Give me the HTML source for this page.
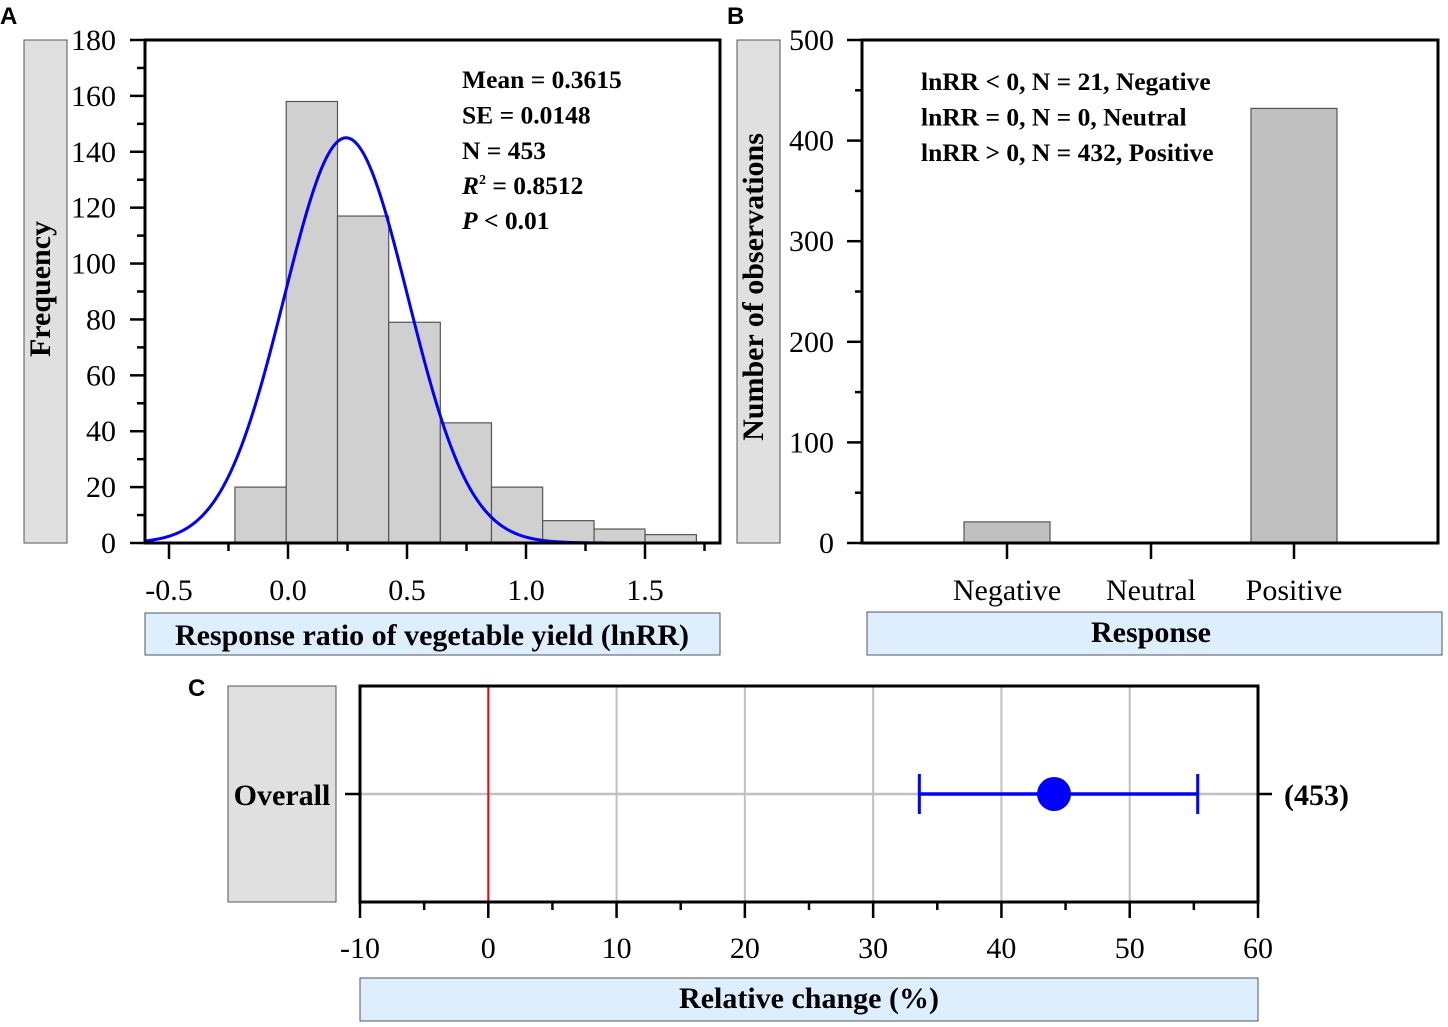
<!DOCTYPE html>
<html><head><meta charset="utf-8"><style>
body{margin:0;background:#fff}
svg{display:block}
text{font-family:"Liberation Serif",serif;fill:#000}
.b{font-weight:bold}
</style></head><body>
<svg id="s" width="1448" height="1027" viewBox="0 0 1448 1027">
<text x="0" y="24" font-weight="bold" font-size="24" style="font-family:'Liberation Sans',sans-serif">A</text>
<text x="727" y="24" font-weight="bold" font-size="24" style="font-family:'Liberation Sans',sans-serif">B</text>
<text x="188" y="696" font-weight="bold" font-size="24" style="font-family:'Liberation Sans',sans-serif">C</text>
<g id="A"></g>
<g id="B"></g>
<g id="C"></g>
</svg>
<script>
// Panel A data
const binEdges=[-0.223,-0.0075,0.208,0.423,0.64,0.855,1.07,1.286,1.5,1.716];
const binCounts=[20,158,117,79,43,20,8,5,3];
const fitPeak=145, fitMean=0.244, fitSigma=0.26;
const aXTicks=[-0.5,0.0,0.5,1.0,1.5];
const aXTickLabels=["-0.5","0.0","0.5","1.0","1.5"];
const aYTicks=[0,20,40,60,80,100,120,140,160,180];
const aStats=["Mean = 0.3615","SE = 0.0148","N = 453"];
// Panel B data
const bCategories=["Negative","Neutral","Positive"];
const bValues=[21,0,432];
const bYTicks=[0,100,200,300,400,500];
const bNotes=["lnRR < 0, N = 21, Negative","lnRR = 0, N = 0, Neutral","lnRR > 0, N = 432, Positive"];
// Panel C data
const cMean=[44.1];
const cLow=[33.6];
const cHigh=[55.3];
const cCounts=["(453)"];
const cXTicks=[-10,0,10,20,30,40,50,60];

const FS=30, SFS=25.5;
const NS="http://www.w3.org/2000/svg";
function mk(p,tag,at,txt){const e=document.createElementNS(NS,tag);for(const k in at)e.setAttribute(k,at[k]);if(txt!==undefined)e.textContent=txt;p.appendChild(e);return e;}

// ---- Panel A
(function(){
const g=document.getElementById('A');
const x=v=>288+v*238, y=v=>543-v*(503/180);
let e=mk(g,'rect',{x:24,y:40,width:43,height:503,fill:'#e0e0e0',stroke:'#555','stroke-width':1});

e=mk(g,'text',{x:0,y:0,transform:'translate(50,289) rotate(-90)','text-anchor':'middle','font-size':FS,class:'b'},'Frequency');

for(let i=0;i<binCounts.length;i++){
 e=mk(g,'rect',{x:x(binEdges[i]),y:y(binCounts[i]),width:x(binEdges[i+1])-x(binEdges[i]),height:y(0)-y(binCounts[i]),fill:'#d0d0d0',stroke:'#555','stroke-width':1.2});
 
}
let d='';
for(let px=145;px<=720;px+=1){const v=(px-288)/238;const f=fitPeak*Math.exp(-Math.pow(v-fitMean,2)/(2*fitSigma*fitSigma));d+=(px==145?'M':'L')+px+','+y(f).toFixed(2);}
e=mk(g,'path',{d:d,fill:'none',stroke:'#0000ff','stroke-width':3});

e=mk(g,'rect',{x:145,y:40,width:575,height:503,fill:'none',stroke:'#000','stroke-width':3});

aYTicks.forEach((t,i)=>{mk(g,'line',{x1:130,x2:145,y1:y(t),y2:y(t),stroke:'#000','stroke-width':2.5});
 if(i<aYTicks.length-1)mk(g,'line',{x1:137,x2:145,y1:y(t+10),y2:y(t+10),stroke:'#000','stroke-width':2.5});
 e=mk(g,'text',{x:116,y:y(t)+10,'text-anchor':'end','font-size':FS},String(t));
 });
aXTicks.forEach((t,i)=>{mk(g,'line',{x1:x(t),x2:x(t),y1:543,y2:559,stroke:'#000','stroke-width':2.5});
 mk(g,'line',{x1:x(t+0.25),x2:x(t+0.25),y1:543,y2:551,stroke:'#000','stroke-width':2.5});
 e=mk(g,'text',{x:x(t),y:600,'text-anchor':'middle','font-size':FS},aXTickLabels[i]);
 });
e=mk(g,'rect',{x:145,y:613,width:575,height:42,fill:'#ddeeff',stroke:'#555','stroke-width':1});

e=mk(g,'text',{x:432,y:645,'text-anchor':'middle','font-size':FS,class:'b'},'Response ratio of vegetable yield  (lnRR)');

aStats.forEach((s,i)=>{e=mk(g,'text',{x:462,y:88+i*35.5,'font-size':SFS,class:'b'},s);
 });
e=mk(g,'text',{x:462,y:194,'font-size':SFS,class:'b'});

e.innerHTML='<tspan font-style="italic">R</tspan><tspan font-size="14" dy="-10">2</tspan><tspan dy="10"> = 0.8512</tspan>';
e=mk(g,'text',{x:462,y:229,'font-size':SFS,class:'b'});

e.innerHTML='<tspan font-style="italic">P</tspan> &lt; 0.01';
})();

// ---- Panel B
(function(){
const g=document.getElementById('B');
const y=v=>543-v*(503/500);
const cx=[1007,1151,1294];
let e=mk(g,'rect',{x:737,y:40,width:43,height:503,fill:'#e0e0e0',stroke:'#555','stroke-width':1});

e=mk(g,'text',{x:0,y:0,transform:'translate(763,287) rotate(-90)','text-anchor':'middle','font-size':FS,class:'b'},'Number of observations');

bValues.forEach((v,i)=>{if(v<=0)return;e=mk(g,'rect',{x:cx[i]-43,y:y(v),width:86,height:y(0)-y(v),fill:'#c0c0c0',stroke:'#555','stroke-width':1.2});
 });
e=mk(g,'rect',{x:862,y:40,width:576,height:503,fill:'none',stroke:'#000','stroke-width':3});

bYTicks.forEach((t,i)=>{mk(g,'line',{x1:847,x2:862,y1:y(t),y2:y(t),stroke:'#000','stroke-width':2.5});
 if(i<bYTicks.length-1)mk(g,'line',{x1:855,x2:862,y1:y(t+50),y2:y(t+50),stroke:'#000','stroke-width':2.5});
 e=mk(g,'text',{x:834,y:y(t)+10,'text-anchor':'end','font-size':FS},String(t));
 });
bCategories.forEach((c,i)=>{mk(g,'line',{x1:cx[i],x2:cx[i],y1:543,y2:559,stroke:'#000','stroke-width':2.5});
 e=mk(g,'text',{x:cx[i],y:600,'text-anchor':'middle','font-size':FS},c);
 });
e=mk(g,'rect',{x:867,y:612,width:575,height:43,fill:'#ddeeff',stroke:'#555','stroke-width':1});

e=mk(g,'text',{x:1151,y:642,'text-anchor':'middle','font-size':FS,class:'b'},'Response');

bNotes.forEach((s,i)=>{e=mk(g,'text',{x:921,y:90+i*35.5,'font-size':SFS,class:'b'},s);
 });
})();

// ---- Panel C
(function(){
const g=document.getElementById('C');
const x=v=>360+(v+10)*(898/70);
const yr=794;
let e=mk(g,'rect',{x:228,y:686,width:108,height:216,fill:'#e0e0e0',stroke:'#555','stroke-width':1});

e=mk(g,'text',{x:282,y:805,'text-anchor':'middle','font-size':FS,class:'b'},'Overall');

cXTicks.forEach(t=>{if(t>-10&&t<60&&t!==0){e=mk(g,'line',{x1:x(t),x2:x(t),y1:686,y2:902,stroke:'#c0c0c0','stroke-width':2});
 }});
mk(g,'line',{x1:360,x2:1258,y1:yr,y2:yr,stroke:'#c0c0c0','stroke-width':2.5});
e=mk(g,'line',{x1:x(0),x2:x(0),y1:686,y2:902,stroke:'#ff0000','stroke-width':2});

e=mk(g,'rect',{x:360,y:686,width:898,height:216,fill:'none',stroke:'#000','stroke-width':3});

mk(g,'line',{x1:345,x2:360,y1:yr,y2:yr,stroke:'#000','stroke-width':2.5});
mk(g,'line',{x1:1258,x2:1272,y1:yr,y2:yr,stroke:'#000','stroke-width':2.5});
cMean.forEach((m,i)=>{
 e=mk(g,'line',{x1:x(cLow[i]),x2:x(cHigh[i]),y1:yr,y2:yr,stroke:'#0000ff','stroke-width':3.5});
 
 mk(g,'line',{x1:x(cLow[i]),x2:x(cLow[i]),y1:774,y2:814,stroke:'#0000ff','stroke-width':3});
 mk(g,'line',{x1:x(cHigh[i]),x2:x(cHigh[i]),y1:774,y2:814,stroke:'#0000ff','stroke-width':3});
 e=mk(g,'circle',{cx:x(m),cy:yr,r:17,fill:'#0000ff'});
 
 e=mk(g,'text',{x:1284,y:805,'font-size':FS,class:'b'},cCounts[i]);
 
});
cXTicks.forEach((t,i)=>{mk(g,'line',{x1:x(t),x2:x(t),y1:902,y2:918,stroke:'#000','stroke-width':2.5});
 if(i<cXTicks.length-1)mk(g,'line',{x1:x(t+5),x2:x(t+5),y1:902,y2:910,stroke:'#000','stroke-width':2.5});
 e=mk(g,'text',{x:x(t),y:958,'text-anchor':'middle','font-size':FS},String(t));
 });
e=mk(g,'rect',{x:360,y:978,width:898,height:43,fill:'#ddeeff',stroke:'#555','stroke-width':1});

e=mk(g,'text',{x:809,y:1008,'text-anchor':'middle','font-size':FS,class:'b'},'Relative change (%)');

})();
</script>
</body></html>
